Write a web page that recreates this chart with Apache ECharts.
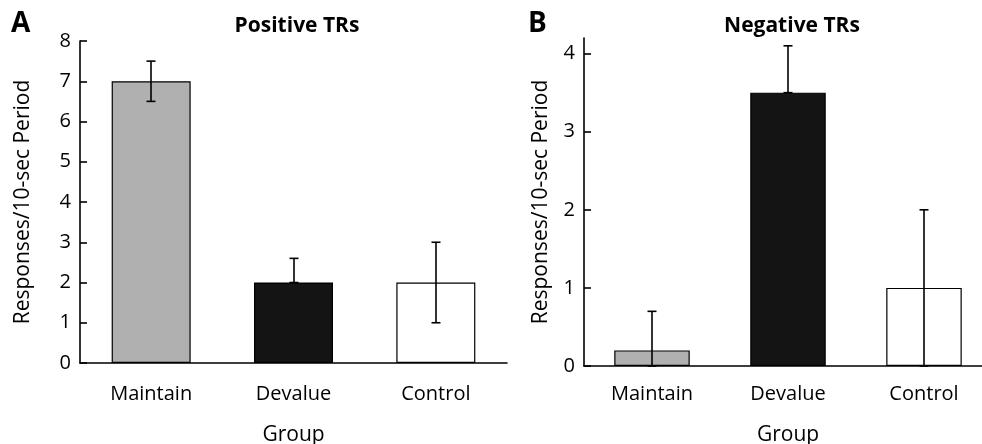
<!DOCTYPE html>
<html>
<head>
<meta charset="utf-8">
<script src="https://cdn.jsdelivr.net/npm/echarts@6/dist/echarts.min.js"></script>
<style>
  html, body { margin: 0; padding: 0; background: #fff; }
  #chart { width: 982px; height: 444px; }
</style>
</head>
<body>
<div id="chart"></div>
<script>
var groups = ['Maintain', 'Devalue', 'Control'];
var barColors = ['#b0b0b0', '#141414', '#ffffff'];

// panel A: positive TRs
var posMean = [7, 2, 2];
var posLow = [6.5, 2, 1];
var posHigh = [7.5, 2.6, 3];

// panel B: negative TRs
var negMean = [0.2, 3.5, 1];
var negLow = [0, 3.5, 0];
var negHigh = [0.7, 4.1, 2];

var posTicks = [0, 1, 2, 3, 4, 5, 6, 7, 8];
var negTicks = [0, 1, 2, 3, 4];

var font = 'Open Sans';

function barData(vals) {
    return vals.map(function (v, i) {
        return { value: v, itemStyle: { color: barColors[i] } };
    });
}

function errData(low, high) {
    return low.map(function (l, i) { return [i, l, high[i]]; });
}

function renderErr(params, api) {
    var lo = api.coord([api.value(0), api.value(1)]);
    var hi = api.coord([api.value(0), api.value(2)]);
    var x = Math.round(lo[0]);
    var cap = 4.5;
    var style = { stroke: '#000', lineWidth: 1.6 };
    return {
        type: 'group',
        children: [
            { type: 'line', shape: { x1: x, y1: lo[1], x2: x, y2: hi[1] }, style: style },
            { type: 'line', shape: { x1: x - cap, y1: hi[1], x2: x + cap, y2: hi[1] }, style: style },
            { type: 'line', shape: { x1: x - cap, y1: lo[1], x2: x + cap, y2: lo[1] }, style: style }
        ]
    };
}

var chart = echarts.init(document.getElementById('chart'));

var axisLine = { show: true, lineStyle: { color: '#000', width: 1.6 } };
var tickStyle = { color: '#000', width: 1.6 };

chart.setOption({
    animation: false,
    textStyle: { fontFamily: font },
    title: [
        { text: 'Positive TRs', left: 292, top: 11, textAlign: 'center',
          textStyle: { fontFamily: font, fontWeight: 'bold', fontSize: 21, color: '#000' } },
        { text: 'Negative TRs', left: 787, top: 11, textAlign: 'center',
          textStyle: { fontFamily: font, fontWeight: 'bold', fontSize: 21, color: '#000' } },
        { text: 'A', left: 6, top: 5,
          textStyle: { fontFamily: font, fontWeight: 'bold', fontSize: 28, color: '#000' } },
        { text: 'B', left: 523, top: 5,
          textStyle: { fontFamily: font, fontWeight: 'bold', fontSize: 28, color: '#000' } }
    ],
    grid: [
        { left: 80, top: 41, width: 427, height: 322, outerBoundsMode: 'none' },
        { left: 584, top: 38, width: 408, height: 328, outerBoundsMode: 'none' }
    ],
    xAxis: [
        { type: 'category', gridIndex: 0, data: groups,
          name: 'Group', nameLocation: 'middle', nameGap: 62,
          nameTextStyle: { fontSize: 21, color: '#000', fontFamily: font },
          axisLine: axisLine, axisTick: { show: false },
          axisLabel: { margin: 21, fontSize: 20, color: '#000', fontFamily: font } },
        { type: 'category', gridIndex: 1, data: groups,
          name: 'Group', nameLocation: 'middle', nameGap: 59,
          nameTextStyle: { fontSize: 21, color: '#000', fontFamily: font },
          axisLine: axisLine, axisTick: { show: false },
          axisLabel: { margin: 18, fontSize: 20, color: '#000', fontFamily: font } }
    ],
    yAxis: [
        { type: 'value', gridIndex: 0, min: 0, max: 8, interval: 1,
          name: 'Responses/10-sec Period', nameLocation: 'middle', nameGap: 46,
          nameTextStyle: { fontSize: 21, color: '#000', fontFamily: font },
          axisLine: axisLine,
          axisTick: { show: true, inside: true, length: 7, customValues: posTicks, lineStyle: tickStyle },
          axisLabel: { margin: 9, fontSize: 20, color: '#000', fontFamily: font, customValues: posTicks },
          splitLine: { show: false } },
        { type: 'value', gridIndex: 1, min: 0, max: 4.2, interval: 1,
          name: 'Responses/10-sec Period', nameLocation: 'middle', nameGap: 32,
          nameTextStyle: { fontSize: 21, color: '#000', fontFamily: font },
          axisLine: axisLine,
          axisTick: { show: true, inside: true, length: 7, customValues: negTicks, lineStyle: tickStyle },
          axisLabel: { margin: 9, fontSize: 20, color: '#000', fontFamily: font, customValues: negTicks },
          splitLine: { show: false } }
    ],
    series: [
        { type: 'bar', xAxisIndex: 0, yAxisIndex: 0, barWidth: '55.5%',
          itemStyle: { borderColor: '#000', borderWidth: 1.2 },
          data: barData(posMean) },
        { type: 'custom', xAxisIndex: 0, yAxisIndex: 0, renderItem: renderErr,
          data: errData(posLow, posHigh), z: 5 },
        { type: 'bar', xAxisIndex: 1, yAxisIndex: 1, barWidth: '55.5%',
          itemStyle: { borderColor: '#000', borderWidth: 1.2 },
          data: barData(negMean) },
        { type: 'custom', xAxisIndex: 1, yAxisIndex: 1, renderItem: renderErr,
          data: errData(negLow, negHigh), z: 5 }
    ]
});
</script>
</body>
</html>
